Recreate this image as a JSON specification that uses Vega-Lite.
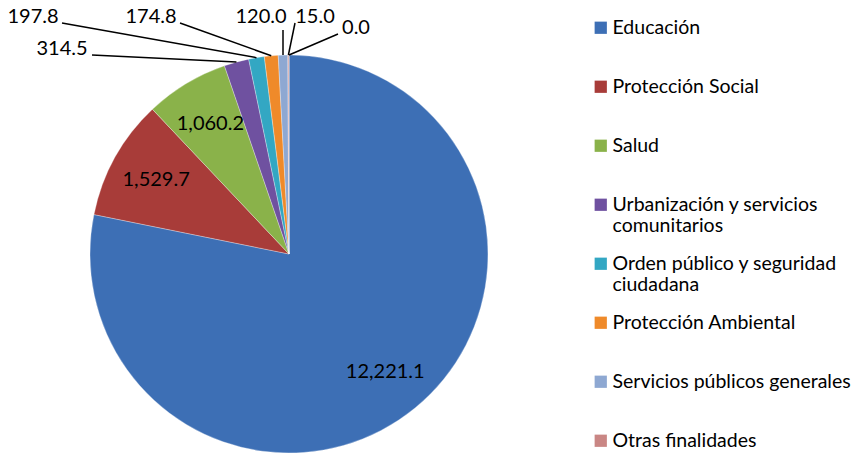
{
  "$schema": "https://vega.github.io/schema/vega-lite/v6.json",
  "width": 400,
  "height": 400,
  "autosize": {"type": "none"},
  "padding": {"left": 89, "top": 54, "right": 368, "bottom": 1},
  "background": "white",
  "config": {"view": {"stroke": null}, "font": "Lato"},
  "data": {
    "values": [
      {"idx": 0, "category": "Educación", "value": 12221.1},
      {"idx": 1, "category": "Protección Social", "value": 1529.7},
      {"idx": 2, "category": "Salud", "value": 1060.2},
      {"idx": 3, "category": "Urbanización y  servicios comunitarios", "value": 314.5},
      {"idx": 4, "category": "Orden público y seguridad ciudadana", "value": 197.8},
      {"idx": 5, "category": "Protección Ambiental", "value": 174.8},
      {"idx": 6, "category": "Servicios públicos generales", "value": 120.0},
      {"idx": 7, "category": "Otras finalidades", "value": 15.0},
      {"idx": 8, "category": "Sin asignar", "value": 0.0}
    ]
  },
  "transform": [
    {"joinaggregate": [{"op": "sum", "field": "value", "as": "total"}]},
    {"window": [{"op": "sum", "field": "value", "as": "cum"}], "sort": [{"field": "idx", "order": "ascending"}], "frame": [null, 0]},
    {"calculate": "(datum.cum - datum.value / 2) / datum.total * 2 * PI", "as": "mid"},
    {"calculate": "199 * sin(datum.mid)", "as": "ex"},
    {"calculate": "199 * cos(datum.mid)", "as": "ey"},
    {"calculate": "format(datum.value, ',.1f')", "as": "label"}
  ],
  "layer": [
    {
      "mark": {"type": "arc", "outerRadius": 199, "stroke": "#ffffff", "strokeWidth": 0.6, "strokeOpacity": 0.5},
      "encoding": {
        "theta": {"field": "value", "type": "quantitative", "stack": true},
        "order": {"field": "idx", "type": "quantitative"},
        "color": {
          "field": "category",
          "type": "nominal",
          "scale": {
            "domain": ["Educación", "Protección Social", "Salud", "Urbanización y  servicios comunitarios", "Orden público y seguridad ciudadana", "Protección Ambiental", "Servicios públicos generales", "Otras finalidades", "Sin asignar"],
            "range": ["#3D6FB5", "#A83C39", "#8AB24A", "#6F51A0", "#33A7C3", "#EF8A2A", "#8EA8D2", "#C98684", "#A9C46F"]
          },
          "legend": {
            "orient": "none",
            "legendX": 502,
            "legendY": -36,
            "title": null,
            "values": ["Educación", "Protección Social", "Salud", "Urbanización y  servicios comunitarios", "Orden público y seguridad ciudadana", "Protección Ambiental", "Servicios públicos generales", "Otras finalidades"],
            "symbolType": "square",
            "symbolSize": 150,
            "symbolStrokeWidth": 0,
            "symbolOpacity": 1,
            "labelFont": "Lato",
            "labelFontSize": 19.5,
            "labelColor": "black",
            "labelLimit": 320,
            "labelLineHeight": 24,
            "labelOffset": 2,
            "rowPadding": 17,
            "gridAlign": "all",
            "labelExpr": "datum.label == 'Urbanización y  servicios comunitarios' ? ['Urbanización y  servicios', 'comunitarios'] : datum.label == 'Orden público y seguridad ciudadana' ? ['Orden público y seguridad', 'ciudadana'] : datum.label"
          }
        }
      }
    },
    {
      "mark": {"type": "text", "radius": 152, "fontSize": 20, "font": "Lato", "color": "black"},
      "encoding": {
        "theta": {"field": "value", "type": "quantitative", "stack": true},
        "order": {"field": "idx", "type": "quantitative"},
        "text": {"condition": {"test": "datum.value > 1000", "field": "label", "type": "nominal"}, "value": ""}
      }
    },
    {
      "transform": [
        {"filter": "datum.value < 1000"},
        {"calculate": "datum.idx == 3 ? -197 : datum.idx == 4 ? -227 : datum.idx == 5 ? -109 : datum.idx == 6 ? -6 : datum.idx == 7 ? 6 : 49", "as": "lx"},
        {"calculate": "datum.idx == 3 ? 199 : datum.idx == 6 ? 224 : datum.idx == 8 ? 220 : 231", "as": "ly"}
      ],
      "mark": {"type": "rule", "color": "black", "strokeWidth": 1.5},
      "encoding": {
        "x": {"field": "lx", "type": "quantitative", "scale": {"domain": [-200, 200], "nice": false, "zero": false}, "axis": null},
        "y": {"field": "ly", "type": "quantitative", "scale": {"domain": [-200, 200], "nice": false, "zero": false}, "axis": null},
        "x2": {"field": "ex"},
        "y2": {"field": "ey"}
      }
    },
    {
      "transform": [
        {"filter": "datum.value < 1000"},
        {"calculate": "datum.idx == 3 ? -227 : datum.idx == 4 ? -256 : datum.idx == 5 ? -138 : datum.idx == 6 ? -28 : datum.idx == 7 ? 26 : 67", "as": "tx"},
        {"calculate": "datum.idx == 3 ? 199 : datum.idx == 8 ? 220 : 231", "as": "ty"}
      ],
      "mark": {"type": "text", "fontSize": 20, "font": "Lato", "color": "black", "align": "center", "baseline": "alphabetic"},
      "encoding": {
        "x": {"field": "tx", "type": "quantitative", "axis": null},
        "y": {"field": "ty", "type": "quantitative", "axis": null},
        "text": {"field": "label", "type": "nominal"}
      }
    }
  ]
}
